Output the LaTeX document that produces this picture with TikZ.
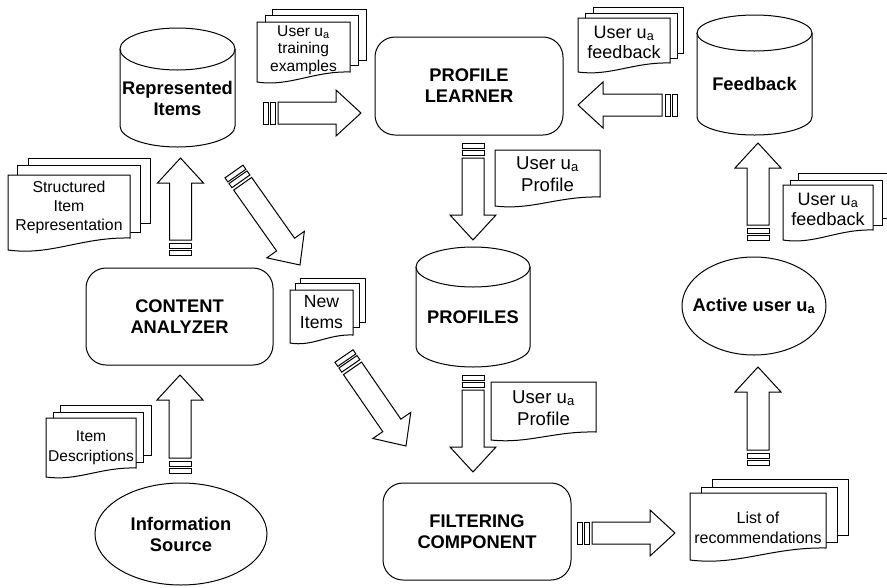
\documentclass[tikz,border=0pt]{standalone}
\usepackage{fontspec}
\setmainfont{Liberation Sans}
\usetikzlibrary{calc,shapes.geometric}

\tikzset{
  line/.style={draw=black, line width=1pt},
  boldtext/.style={align=center, inner sep=0pt, font={\fontsize{18.3}{21}\selectfont\bfseries}},
  proc/.style={line, rounded corners=20pt, boldtext},
  ell/.style={line, ellipse, inner sep=0pt},
  cyltext/.style={boldtext},
  doctext/.style={align=center, inner sep=0pt},
  page/.style={line, fill=white, line join=miter},
  barrowline/.style={line, fill=white, line join=miter},
  fsA/.style={font={\fontsize{15.8}{19}\selectfont}},
  fsB/.style={font={\fontsize{15.6}{17.5}\selectfont}},
  fsC/.style={font={\fontsize{18}{20}\selectfont}},
  fsD/.style={font={\fontsize{16}{20}\selectfont}},
  fsE/.style={font={\fontsize{15.6}{20}\selectfont}},
  fsF/.style={font={\fontsize{17.6}{21}\selectfont}},
  fsG/.style={font={\fontsize{18.6}{22}\selectfont}},
}

% cylinder: name, cx, top, bottom, half width, ry, text
\newcommand{\cyl}[7]{%
  \draw[line, fill=white] ({#2-#5},{#3+#6}) -- ({#2-#5},{#4-#6})
     arc[start angle=180, end angle=360, x radius=#5pt, y radius=#6pt]
     -- ({#2+#5},{#3+#6});
  \draw[line] (#2,{#3+#6}) ellipse[x radius=#5pt, y radius=#6pt];
  \node[cyltext] (#1) at (#2,{(#3+#6+#4)/2}) {#7};
}
% back page of a document stack
\newcommand{\backpage}[4]{\draw[page] (#1,#2) rectangle (#3,#4);}
% front document: name, x1, y1, x2, y2 (right bottom), wave h, text y, font style, text
\newcommand{\doc}[9]{%
  \draw[page] (#2,#3) -- (#4,#3) -- (#4,#5)
     .. controls ({#4-0.4*(#4-#2)},{#5-1}) and ({#2+0.35*(#4-#2)},{#5+1.5*#6}) ..
     (#2,{#5+#6}) -- cycle;
  \node[doctext, #8] (#1) at ({(#2+#4)/2},#7) {#9};
}
% block arrow with two tail bars, from coordinate #1 (tail) to #2 (tip)
\newcommand{\barrow}[2]{%
  \coordinate (q0) at (#1);
  \coordinate (q1) at ($(#1)!5pt!(#2)$);
  \coordinate (q2) at ($(#1)!7pt!(#2)$);
  \coordinate (q3) at ($(#1)!12pt!(#2)$);
  \coordinate (q4) at ($(#1)!15pt!(#2)$);
  \coordinate (q5) at ($(#2)!25pt!(#1)$);
  \draw[barrowline] ($(q0)!11pt!90:(#2)$) -- ($(q1)!11pt!90:(#2)$) -- ($(q1)!11pt!-90:(#2)$) -- ($(q0)!11pt!-90:(#2)$) -- cycle;
  \draw[barrowline] ($(q2)!11pt!90:(#2)$) -- ($(q3)!11pt!90:(#2)$) -- ($(q3)!11pt!-90:(#2)$) -- ($(q2)!11pt!-90:(#2)$) -- cycle;
  \draw[barrowline] ($(q4)!11pt!90:(#2)$) -- ($(q5)!11pt!90:(#2)$) -- ($(q5)!23pt!90:(#2)$) -- (#2)
     -- ($(q5)!23pt!-90:(#2)$) -- ($(q5)!11pt!-90:(#2)$) -- ($(q4)!11pt!-90:(#2)$) -- cycle;
}

\begin{document}
\begin{tikzpicture}[x=1pt,y=-1pt]
\useasboundingbox (0,0) rectangle (887,587);

% ---- main nodes ----
\cyl{ri}{177.5}{28}{147}{57.5}{21}{Represented\\Items}
\cyl{fb}{754.5}{15}{135}{57.5}{18}{Feedback}
\cyl{pr}{473}{247}{367}{57}{20}{PROFILES}

\node[proc, minimum width=188pt, minimum height=98pt] (pl) at (469,86) {PROFILE\\LEARNER};
\node[proc, minimum width=187pt, minimum height=97pt] (ca) at (179.5,316.5) {CONTENT\\ANALYZER};
\node[proc, minimum width=188pt, minimum height=97pt] (fc) at (477,531.5) {FILTERING\\COMPONENT};

\node[ell, minimum width=172pt, minimum height=102pt,
      label={[boldtext]center:Information\\Source}] (is) at (181,534) {};
\node[ell, minimum width=144pt, minimum height=98pt,
      label={[boldtext]center:Active user u\textsubscript{a}}] (au) at (754,306) {};

% ---- documents ----
\backpage{28}{158}{150}{223}\backpage{17}{165}{140}{232}
\doc{sir}{8}{175}{130}{238}{12}{207}{fsA}{Structured\\Item\\Representation}

\backpage{272}{9}{366}{60}\backpage{265}{15}{358}{65}
\doc{ute}{257}{22}{350}{72}{10}{50}{fsB}{User u\textsubscript{a}\\training\\examples}

\backpage{593}{7}{683}{53}\backpage{585}{13}{677}{58}
\doc{uf1}{578}{18}{670}{63}{9}{42}{fsC}{User u\textsubscript{a}\\feedback}

\backpage{798}{173}{892}{218}\backpage{790}{180}{882}{225}
\doc{uf2}{783}{185}{873}{230}{10}{209}{fsC}{User u\textsubscript{a}\\feedback}

\backpage{712}{479}{848}{535}\backpage{701}{487}{837}{542}
\doc{lr}{690}{493}{826}{548}{12}{528}{fsD}{List of\\recommendations}

\backpage{60}{405}{151}{455}\backpage{53}{412}{143}{462}
\doc{id}{46}{418}{136}{468}{9}{448}{fsE}{Item\\Descriptions}

\backpage{300}{278}{365}{322}\backpage{295}{283}{359}{327}
\doc{ni}{290}{290}{353}{335}{8}{312}{fsF}{New\\Items}

\doc{up1}{495}{150}{600}{197}{9}{174}{fsG}{User u\textsubscript{a}\\Profile}
\doc{up2}{491}{382}{596}{432}{8}{408}{fsG}{User u\textsubscript{a}\\Profile}

% ---- connector end points ----
\coordinate (ca-ri-s) at (180.5,255);  \coordinate (ca-ri-e) at (180.5,158);
\coordinate (is-ca-s) at (180,473);    \coordinate (is-ca-e) at (180,375);
\coordinate (ri-pl-s) at (263,113);    \coordinate (ri-pl-e) at (361,113);
\coordinate (fb-pl-s) at (677,105);    \coordinate (fb-pl-e) at (578,105);
\coordinate (pl-pr-s) at (473,143);    \coordinate (pl-pr-e) at (473,240);
\coordinate (pr-fc-s) at (473,375);    \coordinate (pr-fc-e) at (473,472);
\coordinate (fc-lr-s) at (577,533);    \coordinate (fc-lr-e) at (675,533);
\coordinate (lr-au-s) at (758,465);    \coordinate (lr-au-e) at (758,367);
\coordinate (au-fb-s) at (758,240);    \coordinate (au-fb-e) at (758,143);
\coordinate (ri-ni-s) at (234,171.5);  \coordinate (ri-ni-e) at (300,265);
\coordinate (ni-fc-s) at (344,356);    \coordinate (ni-fc-e) at (406,446);

% ---- block arrows ----
\barrow{ca-ri-s}{ca-ri-e}
\barrow{is-ca-s}{is-ca-e}
\barrow{ri-pl-s}{ri-pl-e}
\barrow{fb-pl-s}{fb-pl-e}
\barrow{pl-pr-s}{pl-pr-e}
\barrow{pr-fc-s}{pr-fc-e}
\barrow{fc-lr-s}{fc-lr-e}
\barrow{lr-au-s}{lr-au-e}
\barrow{au-fb-s}{au-fb-e}
\barrow{ri-ni-s}{ri-ni-e}
\barrow{ni-fc-s}{ni-fc-e}
\end{tikzpicture}
\end{document}
